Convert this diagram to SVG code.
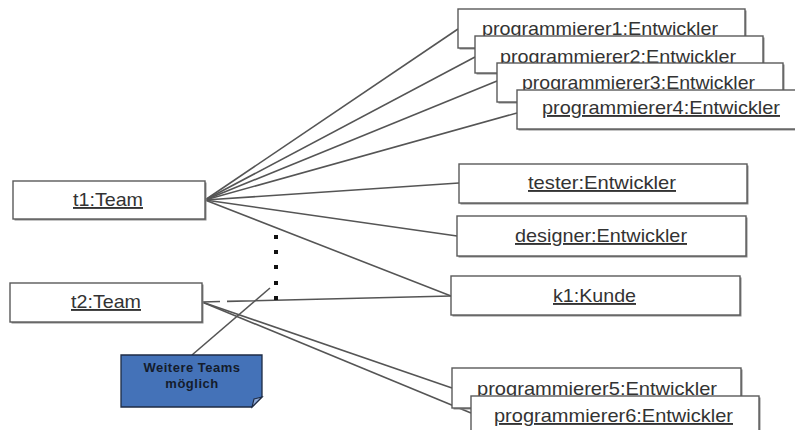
<svg xmlns="http://www.w3.org/2000/svg" width="795" height="430" viewBox="0 0 795 430">
  <style>
    .obj rect.box { fill: #ffffff; stroke: #5a5a5a; stroke-width: 1.4; }
    .obj rect.shadow { fill: #8a8a8a; }
    .obj text { font-family: "Liberation Sans", Arial, sans-serif; font-size: 19px; fill: #333333; text-anchor: middle; text-decoration: underline; }
    .link { stroke: #555555; stroke-width: 1.6; fill: none; }
    .dot { fill: #111111; }
    .note-body { fill: #4472b8; stroke: #1e2b44; stroke-width: 1.3; }
    .note-fold { fill: #8fa9d6; stroke: #1e2b44; stroke-width: 1.1; }
    .note-text { font-family: "Liberation Sans", Arial, sans-serif; font-size: 13px; font-weight: bold; fill: #141c2c; text-anchor: middle; letter-spacing: 0.5px; }
  </style>

  <rect width="795" height="430" fill="#ffffff"/>

  <!-- connectors -->
  <g id="connectors">
    <line class="link" x1="205" y1="200" x2="458" y2="29"/>
    <line class="link" x1="205" y1="200" x2="475" y2="57"/>
    <line class="link" x1="205" y1="200" x2="497" y2="81"/>
    <line class="link" x1="205" y1="200" x2="517" y2="113"/>
    <line class="link" x1="205" y1="200" x2="459" y2="183"/>
    <line class="link" x1="205" y1="200" x2="457" y2="236"/>
    <line class="link" x1="205" y1="200" x2="451" y2="296"/>
    <line class="link" x1="202" y1="302" x2="451" y2="296" stroke-dasharray="18 7 400"/>
    <line class="link" x1="202" y1="302" x2="452" y2="388"/>
    <line class="link" x1="202" y1="302" x2="471" y2="413"/>
    <line class="link" x1="192" y1="355" x2="270" y2="288"/>
  </g>

  <!-- "more teams" dots -->
  <g id="dots">
    <rect class="dot" x="274" y="235" width="4" height="4"/>
    <rect class="dot" x="274" y="250" width="4" height="4"/>
    <rect class="dot" x="274" y="265" width="4" height="4"/>
    <rect class="dot" x="274" y="281" width="4" height="4"/>
    <rect class="dot" x="274" y="296" width="4" height="4"/>
  </g>

  <!-- objects -->
  <g id="t1" class="obj">
    <rect class="shadow" x="14.5" y="182.5" width="192" height="38"/>
    <rect class="box" x="13" y="181" width="192" height="38"/>
    <text x="108" y="206" textLength="70" lengthAdjust="spacingAndGlyphs">t1:Team</text>
  </g>
  <g id="t2" class="obj">
    <rect class="shadow" x="11.5" y="284.5" width="192" height="39"/>
    <rect class="box" x="10" y="283" width="192" height="39"/>
    <text x="106" y="308" textLength="70" lengthAdjust="spacingAndGlyphs">t2:Team</text>
  </g>

  <g id="programmierer1" class="obj">
    <rect class="shadow" x="459.5" y="10.5" width="287" height="39"/>
    <rect class="box" x="458" y="9" width="287" height="39"/>
    <text x="600" y="35" textLength="236" lengthAdjust="spacingAndGlyphs">programmierer1:Entwickler</text>
  </g>
  <g id="programmierer2" class="obj">
    <rect class="shadow" x="476.5" y="37.5" width="288" height="37"/>
    <rect class="box" x="475" y="36" width="288" height="37"/>
    <text x="618" y="63" textLength="236" lengthAdjust="spacingAndGlyphs">programmierer2:Entwickler</text>
  </g>
  <g id="programmierer3" class="obj">
    <rect class="shadow" x="498.5" y="64.5" width="286" height="39"/>
    <rect class="box" x="497" y="63" width="286" height="39"/>
    <text x="638.5" y="89" textLength="233" lengthAdjust="spacingAndGlyphs">programmierer3:Entwickler</text>
  </g>
  <g id="programmierer4" class="obj">
    <rect class="shadow" x="518.5" y="91.5" width="290" height="39"/>
    <rect class="box" x="517" y="90" width="290" height="39"/>
    <text x="661" y="114" textLength="238" lengthAdjust="spacingAndGlyphs">programmierer4:Entwickler</text>
  </g>

  <g id="tester" class="obj">
    <rect class="shadow" x="460.5" y="165.5" width="288" height="39"/>
    <rect class="box" x="459" y="164" width="288" height="39"/>
    <text x="602" y="189" textLength="148" lengthAdjust="spacingAndGlyphs">tester:Entwickler</text>
  </g>
  <g id="designer" class="obj">
    <rect class="shadow" x="458.5" y="217.5" width="289" height="40"/>
    <rect class="box" x="457" y="216" width="289" height="40"/>
    <text x="601" y="242" textLength="172" lengthAdjust="spacingAndGlyphs">designer:Entwickler</text>
  </g>
  <g id="k1" class="obj">
    <rect class="shadow" x="452.5" y="277.5" width="289" height="39"/>
    <rect class="box" x="451" y="276" width="289" height="39"/>
    <text x="594.5" y="302" textLength="83" lengthAdjust="spacingAndGlyphs">k1:Kunde</text>
  </g>

  <g id="programmierer5" class="obj">
    <rect class="shadow" x="453.5" y="369.5" width="289" height="40"/>
    <rect class="box" x="452" y="368" width="289" height="40"/>
    <text x="597" y="395" textLength="240" lengthAdjust="spacingAndGlyphs">programmierer5:Entwickler</text>
  </g>
  <g id="programmierer6" class="obj">
    <rect class="shadow" x="472.5" y="397.5" width="288" height="40"/>
    <rect class="box" x="471" y="396" width="288" height="40"/>
    <text x="613.5" y="422" textLength="239" lengthAdjust="spacingAndGlyphs">programmierer6:Entwickler</text>
  </g>

  <!-- note -->
  <g id="note">
    <polygon class="note-body" points="121,355 262,355 262,397 252,407 121,407"/>
    <polygon class="note-fold" points="262,397 252,407 254,399"/>
    <text class="note-text" x="192" y="372">Weitere Teams</text>
    <text class="note-text" x="192" y="388">möglich</text>
  </g>
</svg>
